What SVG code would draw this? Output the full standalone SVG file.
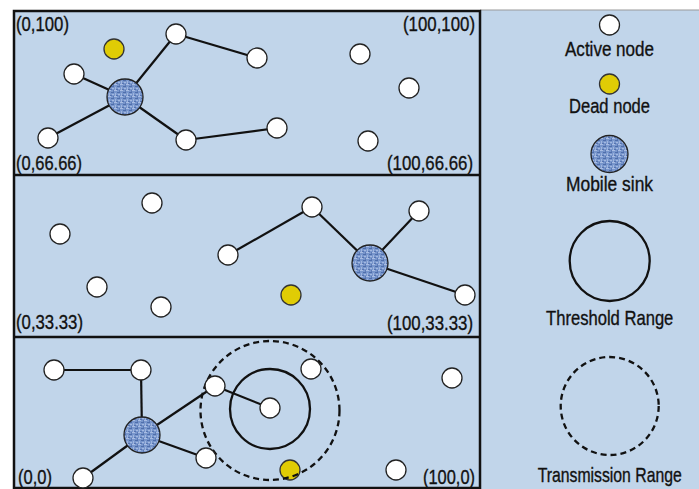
<svg xmlns="http://www.w3.org/2000/svg" width="699" height="489" viewBox="0 0 699 489">
<defs>
<pattern id="tex" width="6" height="6" patternUnits="userSpaceOnUse">
<rect width="6" height="6" fill="#7896cc"/>
<rect x="0" y="0" width="3" height="1" fill="#a9bde3"/>
<rect x="3" y="2" width="3" height="1" fill="#4f6eab"/>
<rect x="1" y="3" width="1" height="3" fill="#9fb5de"/>
<rect x="4" y="4" width="2" height="1" fill="#a3b8e0"/>
<rect x="2" y="5" width="2" height="1" fill="#5674b0"/>
<rect x="5" y="0" width="1" height="2" fill="#5d7bb6"/>
</pattern>
<style>
.bg{fill:#c1d5ea}
.frame{fill:none;stroke:#111;stroke-width:2.5}
.act{fill:#fff;stroke:#222;stroke-width:1.3}
.dead{fill:#e0cc05;stroke:#333;stroke-width:1.3}
.sink{fill:url(#tex);stroke:#222;stroke-width:1.3}
.edge{stroke:#111;stroke-width:2.2;fill:none}
.thr{fill:none;stroke:#111;stroke-width:2.3}
.trn{fill:none;stroke:#111;stroke-width:2.3;stroke-dasharray:6 4}
text{font-family:"Liberation Sans",Arial,sans-serif;font-size:20.5px;fill:#111;stroke:#111;stroke-width:0.35}
</style>
</defs>
<rect width="699" height="489" fill="#fff"/>
<rect class="bg" x="480" y="10" width="219" height="479"/>
<line x1="480" y1="10" x2="699" y2="10" stroke="#999" stroke-width="1"/>
<rect class="bg" x="14" y="11" width="466" height="477"/>
<g id="frame">
<rect class="frame" x="14" y="11" width="466" height="477"/>
<line class="frame" x1="14" y1="175" x2="480" y2="175"/>
<line class="frame" x1="14" y1="337" x2="480" y2="337"/>
</g>
<g id="labels">
<text x="16" y="31" textLength="53" lengthAdjust="spacingAndGlyphs">(0,100)</text>
<text x="403" y="31" textLength="72" lengthAdjust="spacingAndGlyphs">(100,100)</text>
<text x="16" y="170" textLength="66" lengthAdjust="spacingAndGlyphs">(0,66.66)</text>
<text x="387" y="170" textLength="86" lengthAdjust="spacingAndGlyphs">(100,66.66)</text>
<text x="16" y="329" textLength="67" lengthAdjust="spacingAndGlyphs">(0,33.33)</text>
<text x="387" y="330" textLength="86" lengthAdjust="spacingAndGlyphs">(100,33.33)</text>
<text x="18" y="484" textLength="34" lengthAdjust="spacingAndGlyphs">(0,0)</text>
<text x="423" y="484" textLength="52" lengthAdjust="spacingAndGlyphs">(100,0)</text>
</g>
<g id="connectors">
<line class="edge" x1="125" y1="97" x2="74" y2="74"/>
<line class="edge" x1="125" y1="97" x2="176" y2="34"/>
<line class="edge" x1="125" y1="97" x2="48" y2="138"/>
<line class="edge" x1="125" y1="97" x2="186" y2="140"/>
<line class="edge" x1="176" y1="34" x2="257" y2="58"/>
<line class="edge" x1="186" y1="140" x2="277" y2="128"/>
<line class="edge" x1="228" y1="255" x2="312" y2="207"/>
<line class="edge" x1="312" y1="207" x2="370" y2="263"/>
<line class="edge" x1="370" y1="263" x2="419" y2="211"/>
<line class="edge" x1="370" y1="263" x2="465" y2="295"/>
<line class="edge" x1="54" y1="370" x2="141" y2="370"/>
<line class="edge" x1="141" y1="370" x2="142" y2="435"/>
<line class="edge" x1="142" y1="435" x2="215" y2="386"/>
<line class="edge" x1="142" y1="435" x2="206" y2="458"/>
<line class="edge" x1="142" y1="435" x2="83" y2="478"/>
<line class="edge" x1="215" y1="386" x2="270" y2="408"/>
</g>
<g id="ranges">
<circle class="thr" cx="270" cy="409" r="40"/>
<circle id="dead-z3" class="dead" cx="290" cy="470" r="10"/>
<circle class="trn" cx="270" cy="410.5" r="69.5"/>
</g>
<g id="zone1">
<g id="n1"><circle class="dead" cx="114" cy="49" r="10"/></g>
<g id="n2"><circle class="act" cx="74" cy="74" r="10"/></g>
<g id="n3"><circle class="sink" cx="125" cy="97" r="18"/></g>
<g id="n4"><circle class="act" cx="48" cy="138" r="10"/></g>
<g id="n5"><circle class="act" cx="176" cy="34" r="10"/></g>
<g id="n6"><circle class="act" cx="186" cy="140" r="10"/></g>
<g id="n7"><circle class="act" cx="257" cy="58" r="10"/></g>
<g id="n8"><circle class="act" cx="277" cy="128" r="10"/></g>
<g id="n9"><circle class="act" cx="360" cy="54" r="10"/></g>
<g id="n10"><circle class="act" cx="409" cy="88" r="10"/></g>
<g id="n11"><circle class="act" cx="368" cy="141" r="10"/></g>
</g>
<g id="zone2">
<g id="n12"><circle class="act" cx="152" cy="203" r="10"/></g>
<g id="n13"><circle class="act" cx="60" cy="234" r="10"/></g>
<g id="n14"><circle class="act" cx="97" cy="287" r="10"/></g>
<g id="n15"><circle class="act" cx="161" cy="307" r="10"/></g>
<g id="n16"><circle class="act" cx="228" cy="255" r="10"/></g>
<g id="n17"><circle class="act" cx="312" cy="207" r="10"/></g>
<g id="n18"><circle class="act" cx="419" cy="211" r="10"/></g>
<g id="n19"><circle class="sink" cx="370" cy="263" r="18"/></g>
<g id="n20"><circle class="act" cx="465" cy="295" r="10"/></g>
<g id="n21"><circle class="dead" cx="291" cy="295" r="10"/></g>
</g>
<g id="zone3">
<g id="n22"><circle class="act" cx="54" cy="370" r="10"/></g>
<g id="n23"><circle class="act" cx="141" cy="370" r="10"/></g>
<g id="n24"><circle class="sink" cx="142" cy="435" r="18"/></g>
<g id="n25"><circle class="act" cx="215" cy="386" r="10"/></g>
<g id="n26"><circle class="act" cx="206" cy="458" r="10"/></g>
<g id="n27"><circle class="act" cx="83" cy="478" r="10"/></g>
<g id="n28"><circle class="act" cx="311" cy="369" r="10"/></g>
<g id="n29"><circle class="act" cx="270" cy="408" r="10"/></g>
<g id="n30"><circle class="act" cx="452" cy="378" r="10"/></g>
<g id="n31"><circle class="act" cx="396" cy="470" r="10"/></g>
</g>
<g id="legend">
<g id="lg-active"><circle class="act" cx="609.5" cy="25" r="10"/><text x="565" y="56" textLength="89" lengthAdjust="spacingAndGlyphs">Active node</text></g>
<g id="lg-dead"><circle class="dead" cx="609.5" cy="84" r="10"/><text x="569" y="113" textLength="81" lengthAdjust="spacingAndGlyphs">Dead node</text></g>
<g id="lg-sink"><circle class="sink" cx="609.5" cy="154" r="18.5"/><text x="566" y="191" textLength="87" lengthAdjust="spacingAndGlyphs">Mobile sink</text></g>
<g id="lg-thr"><circle class="thr" cx="609.7" cy="261" r="40"/><text transform="translate(609.7,325) scale(0.81,1)" text-anchor="middle">Threshold Range</text></g>
<g id="lg-trn"><circle class="trn" cx="609.7" cy="406" r="49"/><text transform="translate(609.7,482) scale(0.77,1)" text-anchor="middle">Transmission Range</text></g>
</g>
</svg>
